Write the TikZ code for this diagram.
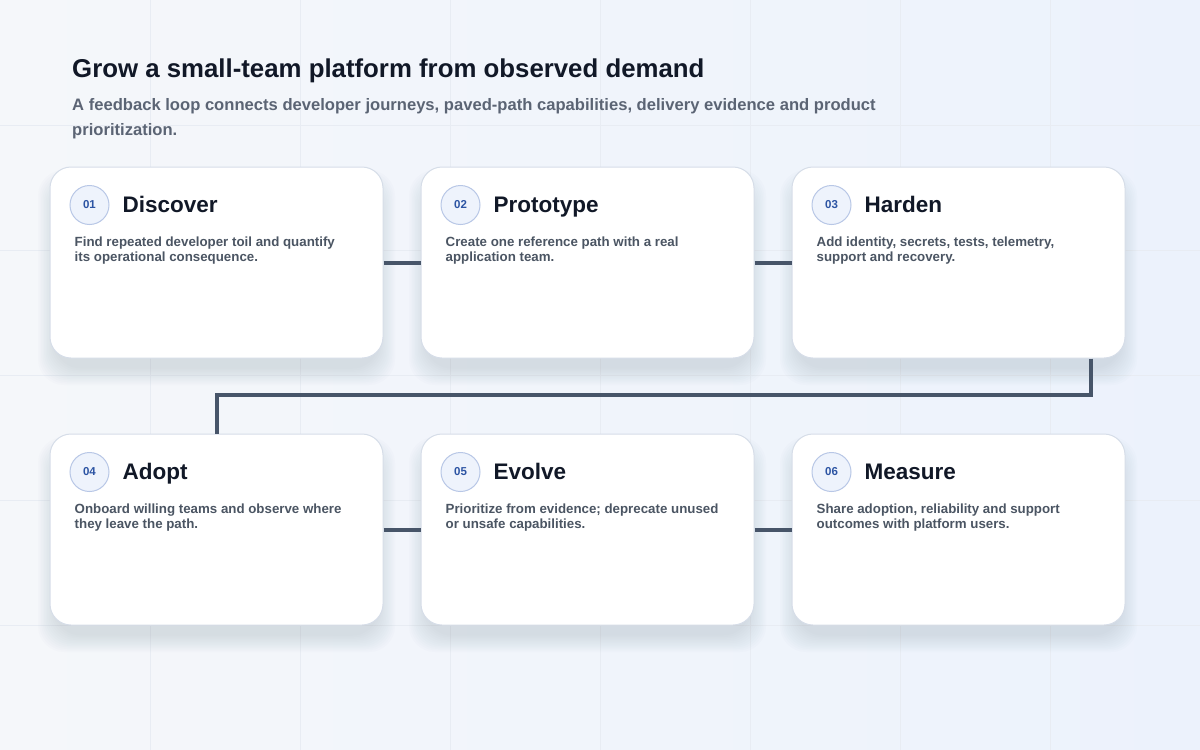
\documentclass[tikz,border=0pt]{standalone}
\usepackage{fontspec}
\setmainfont{Liberation Sans}
\usetikzlibrary{positioning,calc}

\definecolor{inkdark}{HTML}{111827}
\definecolor{inkgray}{HTML}{5B6474}
\definecolor{bodygray}{HTML}{4B5563}
\definecolor{wire}{HTML}{475569}
\definecolor{cardline}{HTML}{D6DDE8}
\definecolor{badgefill}{HTML}{EEF3FC}
\definecolor{badgeline}{HTML}{B8C7E6}
\definecolor{badgeink}{HTML}{2C54A3}
\definecolor{gridline}{HTML}{E8ECF3}
\definecolor{shadowcol}{HTML}{64748B}
\definecolor{bgleft}{HTML}{F5F7FA}
\definecolor{bgright}{HTML}{ECF2FC}

\tikzset{
    card/.style={draw=cardline, line width=1pt, fill=white, rounded corners=21pt,
        minimum width=333pt, minimum height=191pt, inner sep=0pt},
    cardshade/.style={fill=shadowcol, opacity=0.016, rounded corners=26pt, inner sep=0pt},
    badge/.style={circle, draw=badgeline, line width=1pt, fill=badgefill, minimum size=39pt,
        inner sep=0pt, text=badgeink, font=\bfseries\fontsize{11.5}{13}\selectfont},
    steptitle/.style={anchor=base west, inner sep=0pt, text=inkdark,
        font=\bfseries\fontsize{22.5}{26}\selectfont},
    stepbody/.style={anchor=base west, inner sep=0pt, align=left, text=bodygray,
        font=\bfseries\fontsize{13.3}{15}\selectfont},
    link/.style={draw=wire, line width=4pt}
}

\begin{document}
\begin{tikzpicture}[x=1pt, y=-1pt]
        \useasboundingbox (0,0) rectangle (1200,750);
        \shade[left color=bgleft, right color=bgright] (0,0) rectangle (1200,750);
        \foreach \gx in {150,300,...,1050}{
            \draw[gridline, line width=0.5pt] (\gx,0) -- (\gx,750);
        }
        \foreach \gy in {125,250,...,625}{
            \draw[gridline, line width=0.5pt] (0,\gy) -- (1200,\gy);
        }
        % soft shadows under the cards
        \foreach \x/\y in {216.5/262.5,587.5/262.5,958.5/262.5,216.5/529.5,587.5/529.5,958.5/529.5}{
            \foreach \s in {1,...,12}{
                \node[cardshade, minimum width=321+3*\s, minimum height=179+3*\s] at (\x,\y+15) {};
            }
        }
        \foreach \n/\x/\y/\num/\ttl/\txt in {
            c1/216.5/262.5/01/Discover/{Find repeated developer toil and quantify\\its operational consequence.},
            c2/587.5/262.5/02/Prototype/{Create one reference path with a real\\application team.},
            c3/958.5/262.5/03/Harden/{Add identity, secrets, tests, telemetry,\\support and recovery.},
            c4/216.5/529.5/04/Adopt/{Onboard willing teams and observe where\\they leave the path.},
            c5/587.5/529.5/05/Evolve/{Prioritize from evidence; deprecate unused\\or unsafe capabilities.},
            c6/958.5/529.5/06/Measure/{Share adoption, reliability and support\\outcomes with platform users.}}{
            \node[card] (\n) at (\x,\y) {};
            \node[badge] (\n num) at ($(\n.north west)+(40,38.5)$) {\num};
            \node[steptitle] (\n title) at ($(\n.north west)+(73,46)$) {\ttl};
            \node[stepbody] (\n body) at ($(\n.north west)+(25,95)$) {\txt};
        }
        \foreach \m/\n in {c1/c2,c2/c3,c4/c5,c5/c6}{
            \draw[link] (\m) -- (\n);
        }
        \coordinate (turn) at (1091,395);
        \draw[link] (c3.south -| turn) -- (turn) -| (c4.north);
        \node[anchor=base west, inner sep=0pt, text=inkdark, font=\bfseries\fontsize{25.8}{30}\selectfont]
            (heading) at (72,77) {Grow a small-team platform from observed demand};
        \node[anchor=base west, inner sep=0pt, align=left, text=inkgray, font=\bfseries\fontsize{16.6}{25}\selectfont]
            (subheading) at (72,135) {A feedback loop connects developer journeys, paved-path capabilities, delivery evidence and product\\prioritization.};
    \end{tikzpicture}
\end{document}
